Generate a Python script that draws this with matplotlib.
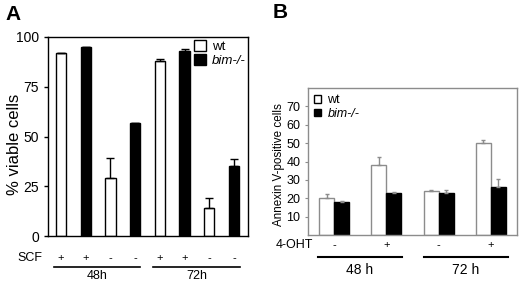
import numpy as np
import matplotlib
matplotlib.use("Agg")
import matplotlib.pyplot as plt
from matplotlib.patches import Patch

plt.rcParams['font.family'] = ['Liberation Sans', 'DejaVu Sans']

# ---- Panel A data: % viable cells ----
a_wt = [92, 29, 88, 14]
a_wt_err = [0, 10, 1, 5]
a_bim = [95, 57, 93, 35]
a_bim_err = [0, 0, 1, 3.5]
a_scf = ['+', '+', '-', '-', '+', '+', '-', '-']
a_times = ['48h', '72h']

# ---- Panel B data: Annexin V-positive cells ----
b_wt = [20, 38, 24, 50]
b_wt_err = [2.5, 4.5, 0.5, 1.5]
b_bim = [18, 23, 23, 26]
b_bim_err = [0.3, 0.3, 1.5, 4.5]
b_oht = ['-', '+', '-', '+']
b_times = ['48 h', '72 h']

fig = plt.figure(figsize=(5.2, 2.82), dpi=100)

# --------------------------- Panel A ---------------------------
axA = fig.add_axes([48/520, 1 - 236/282, 200/520, 199/282])
xw = np.array([0, 2, 4, 6])
xb = xw + 1
w = 0.42
axA.bar(xw, a_wt, w, color='white', edgecolor='black', linewidth=1,
        yerr=[np.zeros(4), a_wt_err], capsize=3, error_kw=dict(lw=1, capthick=1))
axA.bar(xb, a_bim, w, color='black', edgecolor='black', linewidth=1,
        yerr=[np.zeros(4), a_bim_err], capsize=3, error_kw=dict(lw=1, capthick=1))
axA.set_xlim(-0.53, 7.57)
axA.set_ylim(0, 100)
axA.set_yticks([0, 25, 50, 75, 100])
axA.set_xticks([])
axA.tick_params(axis='y', labelsize=10, length=3, width=1)
axA.set_ylabel('% viable cells', fontsize=12)
axA.yaxis.set_label_coords(-0.13, 0.46)
for s in axA.spines.values():
    s.set_linewidth(1)

leg = axA.legend(handles=[Patch(facecolor='white', edgecolor='black'),
                          Patch(facecolor='black', edgecolor='black')],
                 labels=['wt', 'bim-/-'], loc='upper right', frameon=False,
                 fontsize=9.5, handlelength=0.9, handleheight=0.9,
                 handletextpad=0.4, labelspacing=0.1, borderaxespad=0.0,
                 borderpad=0.2)
leg.get_texts()[1].set_style('italic')

trA = axA.get_xaxis_transform()
axA.text(-0.03, -0.11, 'SCF', transform=axA.transAxes, ha='right', va='center', fontsize=9)
for i, s in enumerate(a_scf):
    axA.text(i, -0.11, s, transform=trA, ha='center', va='center', fontsize=8)
for (x0, x1), t in zip([(-0.28, 3.2), (3.72, 7.25)], a_times):
    axA.plot([x0, x1], [-0.156, -0.156], transform=trA, color='black', lw=1.2, clip_on=False)
    axA.text((x0 + x1) / 2, -0.2, t, transform=trA, ha='center', va='center', fontsize=9)

fig.text(5/520, 1 - 14/282, 'A', fontsize=15, fontweight='bold', va='center')

# --------------------------- Panel B ---------------------------
axB = fig.add_axes([308/520, 1 - 235/282, 209/520, 147/282])
xg = np.arange(4)
bw = 0.287
grey = '#8c8c8c'
axB.bar(xg - bw/2, b_wt, bw, color='white', edgecolor=grey, linewidth=1,
        yerr=[np.zeros(4), b_wt_err], ecolor=grey, capsize=1.5, error_kw=dict(lw=1, capthick=1))
axB.bar(xg + bw/2, b_bim, bw, color='black', edgecolor='black', linewidth=1,
        yerr=[np.zeros(4), b_bim_err], ecolor=grey, capsize=1.5, error_kw=dict(lw=1, capthick=1))
axB.set_xlim(-0.5, 3.5)
axB.set_ylim(0, 80)
axB.set_yticks([10, 20, 30, 40, 50, 60, 70])
axB.set_xticks([])
axB.tick_params(axis='y', labelsize=9, length=2, width=0.8, color=grey)
axB.set_ylabel('Annexin V-positive cells', fontsize=8.4)
axB.yaxis.set_label_coords(-0.11, 0.48)
for s in axB.spines.values():
    s.set_color(grey)
    s.set_linewidth(1)

legB = axB.legend(handles=[Patch(facecolor='white', edgecolor='black'),
                           Patch(facecolor='black', edgecolor='black')],
                  labels=['wt', 'bim-/-'], loc='upper left', frameon=False,
                  fontsize=9, handlelength=0.55, handleheight=0.55,
                  handletextpad=0.5, labelspacing=0.15, borderaxespad=0.2,
                  borderpad=0.3)
legB.get_texts()[1].set_style('italic')

trB = axB.get_xaxis_transform()
axB.text(0.024, -0.07, '4-OHT', transform=axB.transAxes, ha='right', va='center', fontsize=9)
for i, s in enumerate(b_oht):
    axB.text(i, -0.07, s, transform=trB, ha='center', va='center', fontsize=8)
for (x0, x1), t in zip([(-0.31, 1.3), (1.72, 3.33)], b_times):
    axB.plot([x0, x1], [-0.15, -0.15], transform=trB, color='black', lw=1.5, clip_on=False)
    axB.text((x0 + x1) / 2, -0.238, t, transform=trB, ha='center', va='center', fontsize=10)

fig.text(273/520, 1 - 13/282, 'B', fontsize=15, fontweight='bold', va='center')

fig.savefig('out.png', dpi=100)
